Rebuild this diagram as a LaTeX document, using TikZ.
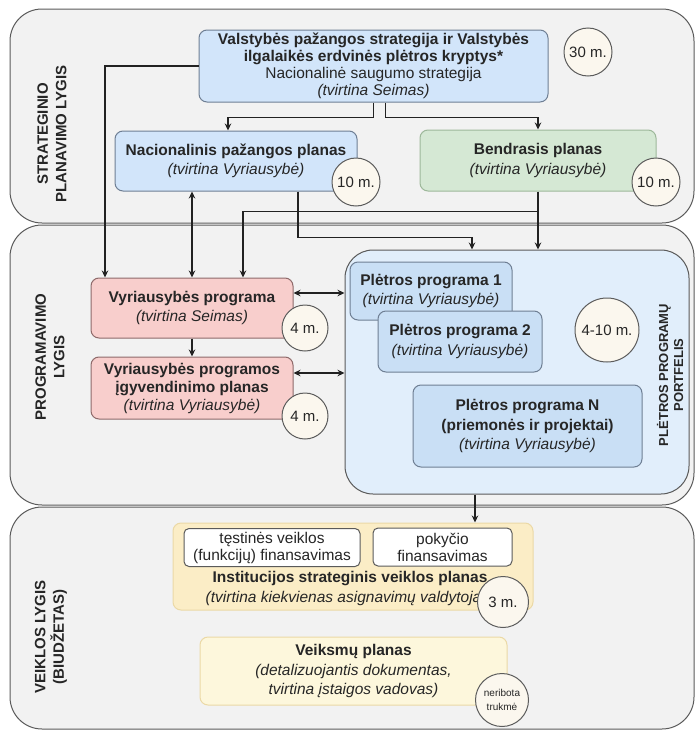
\documentclass[tikz,border=0pt]{standalone}
\usepackage{fontspec}
\setmainfont{Liberation Sans}
\usetikzlibrary{arrows.meta}

\definecolor{lanefill}{HTML}{F2F2F2}
\definecolor{laneedge}{HTML}{5A5A5A}
\definecolor{txt}{HTML}{262626}
\definecolor{linecol}{HTML}{222222}
\definecolor{bluefill}{HTML}{D2E5FA}
\definecolor{blueedge}{HTML}{6F7F94}
\definecolor{pffill}{HTML}{E1EEFB}
\definecolor{ppfill}{HTML}{C9DFF5}
\definecolor{greenfill}{HTML}{D5E8D4}
\definecolor{greenedge}{HTML}{9DB89A}
\definecolor{redfill}{HTML}{F8CECC}
\definecolor{rededge}{HTML}{8E6A6A}
\definecolor{yelfill}{HTML}{FBEDC6}
\definecolor{yeledge}{HTML}{EBD9A6}
\definecolor{paleyel}{HTML}{FDF7DC}
\definecolor{circfill}{HTML}{FBF7EE}
\definecolor{circedge}{HTML}{5C5C5C}

\tikzset{
  lane/.style={draw=laneedge, fill=lanefill, line width=1pt, rounded corners=32pt},
  box/.style={rounded corners=8pt, line width=1pt, align=center, text=txt,
    inner sep=0pt, font=\fontsize{15.5}{19.5}\selectfont},
  bluebox/.style={box, draw=blueedge, fill=bluefill},
  greenbox/.style={box, draw=greenedge, fill=greenfill},
  redbox/.style={box, draw=rededge, fill=redfill},
  ppbox/.style={box, draw=blueedge, fill=ppfill},
  whitebox/.style={box, rounded corners=5pt, draw=laneedge, fill=white,
    font=\fontsize{15.5}{17}\selectfont},
  years/.style={circle, draw=circedge, fill=circfill, line width=1pt, inner sep=0pt,
    text=txt, font=\fontsize{15}{17}\selectfont},
  lanelabel/.style={rotate=90, align=center, text=txt,
    font=\bfseries\fontsize{15}{18.5}\selectfont},
  arr/.style={draw=linecol, line width=1.1pt, -{Stealth[length=7pt,width=6.5pt]}},
  dblarr/.style={draw=linecol, line width=1.1pt,
    {Stealth[length=7pt,width=6.5pt]}-{Stealth[length=7pt,width=6.5pt]}},
}

\begin{document}
\begin{tikzpicture}[x=1pt, y=-1pt]
  \useasboundingbox (0,0) rectangle (696,731);

  % lygiai
  \draw[lane] (10,9) rectangle (694,223);
  \draw[lane] (10,225) rectangle (694,505);
  \draw[lane] (10,507) rectangle (694,729);

  \node[lanelabel] (lstrat) at (52,134) {STRATEGINIO\\PLANAVIMO LYGIS};
  \node[lanelabel] (lprog) at (50,357) {PROGRAMAVIMO\\LYGIS};
  \node[lanelabel] (lveikl) at (51,637) {VEIKLOS LYGIS\\(BIUDŽETAS)};

  % strateginis planavimas
  \node[bluebox, minimum width=349pt, minimum height=72pt,
    font=\fontsize{15.5}{17}\selectfont] (vps) at (373.5,66)
    {\textbf{Valstybės pažangos strategija ir Valstybės}\\
     \textbf{ilgalaikės erdvinės plėtros kryptys*}\\
     Nacionalinė saugumo strategija\\
     \textit{(tvirtina Seimas)}};
  \node[years, minimum size=48pt] (c30) at (588,52) {30 m.};

  \node[bluebox, minimum width=242pt, minimum height=60pt] (npp) at (236,161)
    {\textbf{Nacionalinis pažangos planas}\\ \textit{(tvirtina Vyriausybė)}};
  \node[years, minimum size=48pt] (cnpp) at (356,182) {10 m.};

  \node[greenbox, minimum width=236pt, minimum height=61pt] (bendr) at (538,160.5)
    {\textbf{Bendrasis planas}\\ \textit{(tvirtina Vyriausybė)}};
  \node[years, minimum size=48pt] (cbendr) at (656,182) {10 m.};

  % programavimas
  \node[redbox, minimum width=202pt, minimum height=60pt] (vp) at (192,308)
    {\textbf{Vyriausybės programa}\\ \textit{(tvirtina Seimas)}};
  \node[years, minimum size=46pt] (cvp) at (305,328) {4 m.};

  \node[redbox, minimum width=202pt, minimum height=62pt,
    font=\fontsize{15.5}{18}\selectfont] (vpip) at (192,388)
    {\textbf{Vyriausybės programos}\\ \textbf{įgyvendinimo planas}\\
     \textit{(tvirtina Vyriausybė)}};
  \node[years, minimum size=46pt] (cvpip) at (305,416) {4 m.};

  \node[box, draw=laneedge, fill=pffill, rounded corners=28pt,
    minimum width=344pt, minimum height=244pt] (pf) at (517,372) {};
  \node[ppbox, minimum width=162pt, minimum height=58pt] (pp1) at (431,291)
    {\textbf{Plėtros programa 1}\\ \textit{(tvirtina Vyriausybė)}};
  \node[ppbox, minimum width=164pt, minimum height=61pt] (pp2) at (460,341.5)
    {\textbf{Plėtros programa 2}\\ \textit{(tvirtina Vyriausybė)}};
  \node[ppbox, minimum width=229pt, minimum height=82pt] (ppn) at (527.5,426)
    {\textbf{Plėtros programa N}\\ \textbf{(priemonės ir projektai)}\\
     \textit{(tvirtina Vyriausybė)}};
  \node[years, minimum size=64pt] (cpf) at (607,330) {4-10 m.};
  \node[lanelabel, font=\bfseries\fontsize{13}{15}\selectfont] (lpf) at (670,375)
    {PLĖTROS PROGRAMŲ\\PORTFELIS};

  % veiklos lygis
  \node[box, draw=yeledge, fill=yelfill, minimum width=360pt, minimum height=87pt]
    (isvp) at (353,566.5) {};
  \node[whitebox, minimum width=176pt, minimum height=38pt] (fin1) at (272,547.5)
    {tęstinės veiklos\\(funkcijų) finansavimas};
  \node[whitebox, minimum width=139pt, minimum height=38pt] (fin2) at (442.5,547)
    {pokyčio\\finansavimas};
  \node[align=center, text=txt, font=\fontsize{15.5}{20}\selectfont] (isvptxt) at (350,588)
    {\textbf{Institucijos strateginis veiklos planas}\\
     \textit{(tvirtina kiekvienas asignavimų valdytojas)}};
  \node[years, minimum size=51pt] (cisvp) at (503,602) {3 m.};

  \node[box, draw=yeledge, fill=paleyel, minimum width=307pt, minimum height=68pt]
    (vksm) at (353.5,671)
    {\textbf{Veiksmų planas}\\ \textit{(detalizuojantis dokumentas,}\\
     \textit{tvirtina įstaigos vadovas)}};
  \node[years, minimum size=53pt, align=center, font=\fontsize{10}{14}\selectfont]
    (cvksm) at (502,700) {neribota\\trukmė};

  % ryšiai
  \draw[arr] (vps.west) -| ([xshift=-87pt]vp.north);
  \draw[arr] (vps.south) -- ++(0,15) -| ([xshift=-8pt]npp.north);
  \draw[arr] ([xshift=12pt]vps.south) -- ++(0,15) -| (bendr.north);
  \draw[dblarr] ([xshift=-44pt]npp.south) -- (vp.north);
  \draw[arr] (bendr.south) -- (bendr.south |- pf.north);
  \draw[arr] ([yshift=-20pt]bendr.south) -| ([xshift=51pt]vp.north);
  \draw[arr] ([xshift=62pt]npp.south) -- ++(0,46) -| ([xshift=-45pt]pf.north);
  \draw[arr] (vp.south) -- (vpip.north);
  \draw[dblarr] ([yshift=15pt]vp.east) -- ([yshift=15pt]vp.east -| pf.west);
  \draw[dblarr] ([yshift=15pt]vpip.east) -- ([yshift=15pt]vpip.east -| pf.west);
  \draw[arr] ([xshift=-42pt]pf.south) -- ([xshift=-42pt]pf.south |- isvp.north);
\end{tikzpicture}
\end{document}
